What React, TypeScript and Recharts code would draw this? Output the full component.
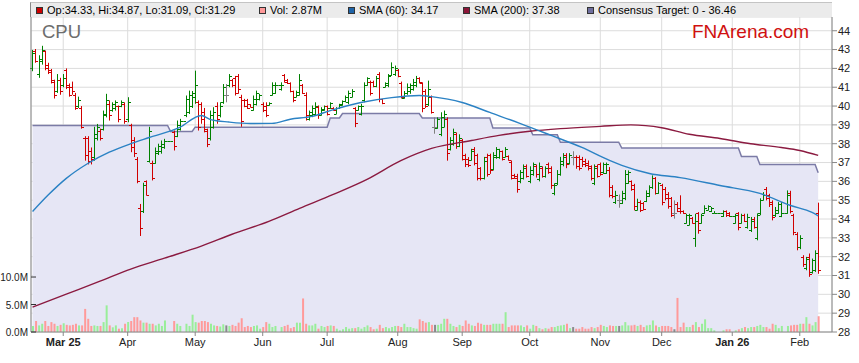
import { Area, Bar, CartesianGrid, Cell, ComposedChart, Line, XAxis, YAxis } from 'recharts'

// Daily slots are weekdays starting Mon 17 Feb 2025; exchange holidays are
// flat bars at the previous close with zero volume.
const FIRST_DAY = Date.UTC(2025, 1, 17)
const PAD_SLOTS = 4

const opens = [
  42.0, 42.9, 41.7, 42.4, 42.9, 42.2, 41.9, 41.3, 40.8, 41.4,
  41.1, 41.9, 41.1, 41.0, 40.6, 40.0, 39.9, 38.3, 38.3, 37.6,
  37.3, 38.3, 38.7, 38.8, 39.5, 40.1, 39.8, 39.9, 40.0, 40.0,
  40.1, 39.3, 39.0, 38.2, 37.2, 34.6, 34.4, 36.0, 37.1, 37.0,
  37.0, 37.5, 37.6, 37.8, 38.17, 38.17, 38.6, 38.4, 38.8, 39.2,
  39.5, 39.7, 40.0, 40.5, 40.2, 40.1, 39.7, 38.7, 38.3, 38.9,
  40.0, 39.5, 40.2, 40.6, 41.1, 41.4, 41.5, 41.6, 40.5, 40.3,
  40.3, 40.1, 39.8, 40.1, 40.35, 40.1, 40.0, 40.05, 40.6, 40.7,
  41.1, 40.9, 41.65, 41.4, 41.2, 40.8, 40.5, 40.6, 41.1, 40.6,
  39.3, 39.5, 39.6, 39.95, 39.55, 39.8, 40.0, 39.9, 39.92, 39.6,
  39.9, 40.05, 40.25, 40.2, 40.5, 39.9, 39.8, 39.6, 40.3, 41.1,
  41.3, 41.3, 41.05, 41.7, 40.35, 41.0, 41.1, 41.65, 41.7, 41.9,
  41.2, 40.45, 40.7, 40.8, 40.9, 41.1, 41.5, 41.2, 40.8, 40.1,
  40.5, 38.9, 38.85, 38.5, 38.9, 39.3, 37.7, 38.0, 38.5, 37.9,
  38.2, 37.4, 37.2, 37.15, 37.7, 37.4, 36.7, 36.2, 37.3, 37.4,
  36.65, 37.3, 37.3, 37.6, 37.3, 37.35, 37.05, 36.35, 36.3, 36.0,
  36.2, 36.8, 36.0, 36.4, 36.8, 36.1, 36.7, 36.3, 36.9, 36.7,
  35.4, 35.9, 36.4, 36.9, 37.4, 37.0, 37.3, 37.3, 37.3, 37.2,
  37.1, 37.0, 36.8, 35.9, 36.8, 36.9, 36.5, 36.45, 36.6, 35.7,
  34.9, 35.0, 34.85, 35.1, 35.9, 36.0, 35.8, 34.5, 34.9, 34.85,
  34.95, 35.2, 35.7, 36.2, 35.4, 35.8, 35.6, 35.35, 35.1, 34.3,
  34.8, 34.6, 34.44, 33.8, 33.7, 34.05, 33.0, 34.3, 33.8, 34.3,
  34.5, 34.4, 34.32, 34.34, 34.34, 34.15, 34.4, 34.3, 34.15, 33.8,
  34.3, 33.8, 34.2, 33.6, 33.4, 34.0, 33.0, 34.3, 35.0, 35.6,
  35.3, 34.9, 34.2, 34.3, 34.15, 34.32, 34.3, 35.4, 34.2, 33.2,
  32.5, 32.0, 31.4, 32.0, 31.2, 31.3, 34.33,
]

const highs = [
  42.98, 43.03, 42.7, 43.2, 42.95, 42.3, 41.97, 41.4, 41.7, 41.5,
  41.7, 42.0, 41.2, 41.3, 40.7, 40.5, 40.0, 38.4, 38.4, 37.8,
  38.9, 39.05, 38.8, 39.76, 40.65, 40.3, 40.2, 40.3, 40.03, 40.3,
  40.2, 40.47, 39.06, 38.35, 37.29, 34.8, 35.93, 36.05, 38.9, 37.1,
  37.8, 38.0, 38.17, 38.26, 38.17, 38.17, 38.7, 39.23, 39.32, 39.2,
  40.56, 40.82, 40.8, 41.88, 40.3, 40.2, 39.9, 38.8, 39.76, 39.94,
  40.2, 40.2, 41.17, 41.17, 41.7, 41.44, 41.6, 41.7, 40.6, 40.38,
  40.38, 40.1, 40.56, 40.82, 40.65, 40.2, 40.2, 40.2, 41.26, 41.26,
  41.1, 41.26, 41.7, 41.44, 41.26, 40.82, 40.82, 41.7, 41.17, 40.73,
  39.76, 40.03, 40.2, 40.03, 39.94, 40.03, 40.03, 40.2, 39.94, 39.94,
  40.12, 40.3, 40.56, 40.82, 40.9, 39.94, 40.03, 40.12, 41.26, 41.53,
  41.35, 41.35, 41.6, 41.8, 40.38, 41.26, 41.7, 42.32, 42.15, 41.97,
  41.3, 40.8, 41.2, 41.2, 41.44, 41.6, 41.53, 41.26, 40.9, 41.35,
  40.56, 39.4, 39.4, 39.67, 39.76, 39.4, 38.35, 38.8, 38.6, 38.5,
  38.26, 37.47, 37.29, 37.73, 37.82, 37.47, 36.76, 37.3, 37.47, 37.47,
  37.55, 37.82, 37.73, 37.64, 37.82, 37.38, 37.11, 36.4, 36.4, 36.6,
  36.9, 36.9, 36.8, 37.0, 36.9, 37.0, 36.8, 36.8, 37.0, 36.8,
  35.9, 36.6, 37.3, 37.5, 37.5, 37.5, 37.6, 37.38, 37.38, 37.3,
  37.2, 37.11, 36.85, 36.9, 36.9, 37.0, 37.0, 37.0, 36.76, 35.8,
  35.5, 35.3, 35.5, 36.6, 36.58, 36.05, 35.87, 35.08, 34.99, 34.9,
  35.52, 35.79, 36.32, 36.23, 35.96, 35.87, 35.7, 35.43, 35.17, 34.99,
  34.9, 35.26, 34.46, 34.28, 34.28, 34.11, 34.28, 34.37, 34.28, 34.73,
  34.73, 34.64, 34.42, 34.34, 34.34, 34.46, 34.46, 34.37, 34.15, 34.28,
  34.37, 34.28, 34.28, 34.28, 34.11, 34.11, 34.3, 35.1, 35.43, 35.7,
  35.34, 34.99, 34.64, 34.9, 34.9, 34.32, 35.52, 35.5, 34.28, 33.3,
  33.14, 32.08, 31.99, 32.17, 31.9, 32.34, 34.87,
]

const lows = [
  41.85, 42.3, 41.5, 42.2, 41.9, 41.7, 41.2, 40.4, 40.7, 40.6,
  41.0, 40.9, 40.5, 40.6, 39.8, 39.9, 38.8, 37.1, 36.9, 36.9,
  37.1, 38.17, 38.17, 38.7, 39.4, 39.23, 39.7, 39.76, 39.14, 39.94,
  39.06, 39.14, 37.55, 37.29, 35.9, 33.1, 34.32, 35.26, 37.0, 36.05,
  36.94, 37.4, 37.47, 37.73, 38.17, 38.17, 37.64, 38.35, 38.7, 39.2,
  39.41, 39.58, 39.9, 40.12, 38.7, 39.06, 38.6, 37.82, 38.17, 38.8,
  39.06, 39.4, 40.12, 40.2, 41.0, 41.0, 40.56, 40.65, 38.9, 39.94,
  39.85, 39.94, 39.76, 40.03, 40.3, 39.68, 39.41, 40.03, 40.56, 40.65,
  41.1, 40.82, 41.26, 41.17, 40.73, 40.2, 40.47, 40.56, 40.65, 39.23,
  39.23, 39.41, 39.5, 39.32, 39.5, 39.76, 39.5, 39.85, 39.76, 39.58,
  39.85, 40.03, 40.2, 40.1, 40.47, 38.88, 39.76, 39.5, 40.2, 41.08,
  40.56, 41.0, 41.0, 40.2, 40.1, 41.0, 41.0, 41.6, 41.6, 41.53,
  40.4, 40.4, 40.6, 40.65, 40.82, 41.0, 41.2, 39.67, 39.9, 40.0,
  39.6, 38.53, 38.8, 38.4, 38.88, 37.1, 37.64, 37.9, 37.73, 37.82,
  37.11, 36.76, 36.76, 37.11, 36.85, 36.05, 36.05, 36.1, 36.25, 36.4,
  36.58, 37.2, 37.2, 37.11, 37.29, 37.11, 36.1, 36.14, 35.4, 35.9,
  36.1, 36.2, 35.9, 36.3, 36.2, 36.0, 36.2, 36.2, 36.4, 35.6,
  35.26, 35.8, 36.3, 36.8, 36.7, 36.9, 36.85, 36.67, 36.58, 36.76,
  36.76, 36.58, 36.05, 35.8, 36.2, 36.3, 36.4, 36.4, 35.15, 35.1,
  34.8, 34.6, 34.8, 35.0, 35.87, 35.5, 34.46, 34.46, 34.37, 34.46,
  34.9, 35.17, 35.6, 35.3, 35.34, 34.73, 34.99, 34.55, 34.11, 34.02,
  34.37, 34.28, 34.28, 33.76, 33.67, 33.76, 32.52, 33.22, 33.76, 34.28,
  34.46, 34.37, 34.3, 34.34, 34.34, 34.11, 34.11, 34.11, 34.15, 33.76,
  33.4, 33.76, 33.84, 33.49, 33.31, 33.49, 32.87, 34.2, 34.99, 34.99,
  34.64, 33.93, 34.11, 34.28, 34.1, 34.32, 34.28, 34.3, 33.14, 32.34,
  32.4, 31.46, 31.28, 30.93, 31.1, 31.19, 31.09,
]

const closes = [
  42.8, 42.4, 42.5, 43.0, 42.0, 41.8, 41.4, 40.6, 41.4, 40.8,
  41.5, 41.0, 40.6, 40.8, 39.9, 40.3, 38.9, 37.4, 37.1, 37.2,
  38.5, 38.9, 38.3, 39.6, 40.3, 39.5, 40.1, 40.2, 39.3, 40.2,
  39.2, 40.2, 37.8, 37.5, 36.0, 33.5, 35.8, 35.3, 38.7, 36.2,
  37.6, 37.9, 38.0, 38.17, 38.17, 38.17, 37.9, 39.0, 39.2, 39.2,
  40.4, 40.6, 40.7, 41.1, 38.9, 39.3, 38.8, 38.0, 39.5, 39.7,
  39.3, 40.0, 41.0, 40.6, 41.6, 41.1, 40.7, 40.9, 39.2, 40.0,
  39.9, 39.97, 40.4, 40.7, 40.6, 39.8, 39.5, 40.15, 41.1, 41.1,
  41.1, 41.1, 41.3, 41.2, 40.8, 40.3, 40.75, 41.4, 40.7, 39.5,
  39.7, 39.9, 40.0, 39.5, 39.85, 40.0, 39.6, 40.15, 39.8, 39.9,
  40.1, 40.25, 40.5, 40.7, 40.8, 39.1, 40.0, 40.0, 41.1, 41.5,
  40.7, 41.05, 41.5, 40.4, 40.15, 41.2, 41.6, 42.1, 42.0, 41.6,
  40.5, 40.7, 41.0, 41.1, 41.3, 41.5, 41.3, 39.9, 40.0, 40.9,
  39.7, 38.9, 39.3, 39.4, 39.6, 37.5, 38.2, 38.6, 37.9, 38.3,
  37.2, 36.9, 36.85, 37.6, 37.0, 36.2, 36.2, 37.1, 36.4, 36.6,
  37.4, 37.7, 37.6, 37.2, 37.7, 37.15, 36.2, 36.2, 35.6, 36.5,
  36.7, 36.3, 36.6, 36.9, 36.4, 36.8, 36.3, 36.7, 36.5, 35.8,
  35.8, 36.4, 37.1, 37.3, 36.9, 37.4, 37.3, 36.8, 36.7, 36.9,
  36.85, 36.7, 36.2, 36.7, 36.3, 36.4, 36.9, 36.9, 35.3, 35.2,
  35.3, 35.0, 35.4, 36.4, 36.5, 35.6, 34.7, 34.9, 34.5, 34.55,
  35.4, 35.7, 36.2, 35.4, 35.9, 34.9, 35.1, 34.7, 34.2, 34.3,
  34.45, 34.4, 34.3, 34.2, 34.2, 33.8, 33.9, 33.4, 34.2, 34.6,
  34.7, 34.6, 34.34, 34.34, 34.34, 34.4, 34.2, 34.15, 34.15, 34.2,
  33.6, 34.2, 33.9, 34.1, 33.9, 33.6, 34.2, 35.0, 35.3, 35.1,
  34.8, 34.1, 34.5, 34.8, 34.32, 34.32, 35.3, 34.4, 33.3, 32.5,
  33.0, 31.6, 31.9, 31.1, 31.8, 32.2, 31.29,
]

// volume in millions of shares
const volumes = [
  1.1, 2.0, 1.2, 1.5, 2.0, 1.1, 1.8, 1.5, 1.1, 1.3,
  1.6, 1.3, 1.2, 1.3, 1.5, 1.2, 1.2, 4.2, 2.4, 1.1,
  1.2, 1.1, 1.1, 1.8, 4.85, 1.2, 0.85, 1.2, 0.6, 0.7,
  1.5, 1.8, 2.0, 2.7, 2.7, 2.1, 1.7, 1.7, 1.5, 1.5,
  1.2, 1.5, 1.1, 2.1, 0, 0, 2.0, 1.5, 1.1, 0,
  1.5, 1.1, 3.15, 1.8, 1.7, 2.0, 2.0, 1.8, 1.5, 1.2,
  1.1, 1.0, 1.4, 1.2, 1.1, 1.3, 1.1, 1.7, 2.5, 0.9,
  1.1, 0.9, 1.1, 1.2, 0.6, 0.9, 1.8, 1.5, 0.9, 1.1,
  0, 0.9, 1.1, 1.3, 0.7, 0.9, 1.7, 1.7, 6.1, 1.5,
  1.2, 1.2, 1.5, 0.6, 1.1, 0.9, 1.1, 1.2, 1.1, 0.6,
  0.3, 0.5, 0.9, 0.6, 0.7, 0.7, 0.9, 0.6, 0.9, 1.2,
  0.9, 0.5, 0.6, 1.3, 0.7, 0.9, 0.7, 0.9, 1.1, 1.1,
  0.9, 1.5, 0.9, 0.9, 0.7, 0.6, 2.3, 2.0, 1.7, 1.8,
  1.3, 1.3, 1.3, 1.5, 2.4, 2.4, 1.5, 1.1, 0.9, 1.3,
  1.1, 2.1, 1.5, 1.2, 1.1, 1.7, 1.5, 1.3, 1.3, 1.3,
  1.5, 1.5, 1.5, 1.5, 3.6, 0.9, 1.2, 1.2, 1.2, 1.2,
  0.9, 1.2, 0.6, 1.3, 1.1, 0.7, 0.5, 0.7, 0.6, 0.9,
  0.9, 1.1, 1.2, 1.3, 1.5, 0.7, 0.9, 0.6, 0.6, 0.9,
  0.6, 0.6, 0.9, 0.7, 0.9, 1.3, 1.1, 0.9, 1.2, 1.1,
  1.1, 1.1, 1.2, 1.8, 1.2, 1.2, 1.3, 1.1, 1.3, 0.9,
  1.2, 1.3, 2.1, 1.2, 0.9, 1.1, 1.1, 1.1, 0.9, 0.5,
  6.2, 0.9, 1.7, 0.9, 0.9, 1.3, 1.8, 0.9, 1.5, 2.3,
  0.7, 0.7, 0.3, 0, 0, 0.3, 0.5, 0.5, 0, 0.3,
  0.5, 0.7, 0.9, 0.7, 0.9, 0.9, 1.1, 1.3, 0.9, 0.9,
  0.6, 1.5, 1.3, 0.7, 1.1, 0, 1.1, 1.2, 1.3, 1.3,
  1.5, 1.5, 2.7, 1.5, 1.2, 1.8, 2.87,
]

// [slot, value] readings along the moving averages
const sma60Points: Array<[number, number]> = [
  [0, 34.4], [5, 35.26], [11, 36.16], [18, 36.95], [25, 37.55], [32, 38.0],
  [38, 38.33], [48, 38.87], [55, 39.5], [58, 39.28], [64, 39.15], [71, 39.07],
  [78, 39.08], [84, 39.3], [91, 39.45], [97, 39.76], [107, 40.19], [117, 40.45],
  [126, 40.56], [130, 40.5], [140, 40.19], [149, 39.66], [159, 39.07], [169, 38.44],
  [179, 37.8], [188, 37.11], [192, 36.85], [201, 36.42], [211, 36.2], [224, 35.78],
  [237, 35.36], [247, 34.72], [254, 34.35], [256, 34.17],
]

const sma200Points: Array<[number, number]> = [
  [0, 29.32], [11, 30.01], [22, 30.7], [32, 31.34], [43, 31.92], [55, 32.56],
  [65, 33.19], [77, 33.88], [87, 34.57], [98, 35.31], [109, 36.11], [120, 37.1],
  [130, 37.75], [143, 38.17], [152, 38.44], [162, 38.66], [172, 38.8], [185, 38.92],
  [195, 39.0], [205, 38.85], [214, 38.5], [224, 38.28], [234, 38.0], [244, 37.8],
  [250, 37.64], [256, 37.38],
]

// consensus target: each change is a short ramp between two slots
const targetPoints: Array<[number, number]> = [
  [0, 38.97], [44, 38.97], [45, 38.65], [52, 38.65], [53, 38.88], [96, 38.88],
  [97, 39.37], [100, 39.37], [101, 39.6], [126, 39.6], [127, 39.37], [149, 39.37],
  [150, 38.84], [162, 38.84], [163, 38.47], [171, 38.47], [172, 38.08], [191, 38.08],
  [192, 37.77], [230, 37.77], [231, 37.32], [236, 37.32], [237, 36.9], [255, 36.9],
  [256, 36.46],
]

const priceTicks = [28, 29, 30, 31, 32, 33, 34, 35, 36, 37, 38, 39, 40, 41, 42, 43, 44]
const volumeTicks = [0, 5, 10]
const monthLabels = ['Mar 25', 'Apr', 'May', 'Jun', 'Jul', 'Aug', 'Sep', 'Oct', 'Nov', 'Dec', 'Jan 26', 'Feb']

const UP = '#008000'
const DOWN = '#d00000'
const FLAT = '#808080'
const VOL_UP = '#99ee99'
const VOL_DOWN = '#ff9a9a'
const VOL_FLAT = '#8a8a8a'

const slotDates: Array<Date> = []
for (let t = FIRST_DAY; slotDates.length < opens.length; t += 86400000) {
  const d = new Date(t)
  if (d.getUTCDay() !== 0 && d.getUTCDay() !== 6) slotDates.push(d)
}

// first weekday of each month gets a tick
const monthSlots: Array<number> = []
slotDates.forEach((d, i) => {
  if (i > 0 && d.getUTCMonth() !== slotDates[i - 1].getUTCMonth()) monthSlots.push(i)
})
const labelBySlot = new Map(monthSlots.map((s, i) => [s, monthLabels[i]]))

function direction(i: number) {
  if (volumes[i] === 0 || closes[i] > opens[i]) return 'up'
  if (closes[i] < opens[i]) return 'down'
  return 'flat'
}

const sma60 = new Map(sma60Points)
const sma200 = new Map(sma200Points)
const target = new Map(targetPoints)

const data = Array.from({ length: opens.length + PAD_SLOTS }, (_, i) =>
  i < opens.length
    ? {
        slot: i,
        range: [lows[i], highs[i]],
        open: opens[i],
        high: highs[i],
        low: lows[i],
        close: closes[i],
        volume: volumes[i],
        sma60: sma60.get(i) ?? null,
        sma200: sma200.get(i) ?? null,
        target: target.get(i) ?? null,
      }
    : { slot: i },
)

const last = opens.length - 1

function OhlcBar(props: any) {
  const { x, y, width, height, payload } = props
  if (!payload || payload.open == null) return null
  const dir = direction(payload.slot)
  const color = dir === 'up' ? UP : dir === 'down' ? DOWN : FLAT
  const cx = Math.round(x + width / 2) + 0.5
  const top = Math.min(y, y + height)
  const h = Math.abs(height)
  const span = payload.high - payload.low
  const at = (v: number) => (span > 0 ? top + ((payload.high - v) / span) * h : top)
  const yo = Math.round(at(payload.open)) + 0.5
  const yc = Math.round(at(payload.close)) + 0.5
  return (
    <g stroke={color} strokeWidth={1}>
      {h > 0 && <line x1={cx} x2={cx} y1={top} y2={top + h} />}
      <line x1={cx - 2.5} x2={cx} y1={yo} y2={yo} />
      <line x1={cx} x2={cx + 2.5} y1={yc} y2={yc} />
    </g>
  )
}

function MonthTick({ x, y, payload }: any) {
  const label = labelBySlot.get(payload.value) ?? ''
  return (
    <text
      x={x}
      y={y}
      dy={8}
      textAnchor="middle"
      fontSize={11}
      fontWeight={/\d/.test(label) ? 'bold' : 'normal'}
      fill="#222"
    >
      {label}
    </text>
  )
}

function VolumeTick({ x, y, payload }: any) {
  return (
    <g>
      <line x1={x + 4} x2={x + 9} y1={y} y2={y} stroke="#333" />
      <text x={x + 1} y={y} dy={4} textAnchor="end" fontSize={10} fill="#222">
        {`${payload.value.toFixed(1)}M`}
      </text>
    </g>
  )
}

const legendItems = [
  {
    left: 5,
    color: '#cc0000',
    text: `Op:${opens[last].toFixed(2)}, Hi:${highs[last].toFixed(2)}, Lo:${lows[last].toFixed(2)}, Cl:${closes[last].toFixed(2)}`,
  },
  { left: 228, color: '#ff9999', text: `Vol: ${volumes[last].toFixed(2)}M` },
  { left: 317, color: '#1f64a8', text: `SMA (60): ${sma60Points[sma60Points.length - 1][1].toFixed(2)}` },
  { left: 432, color: '#8b1538', text: `SMA (200): ${sma200Points[sma200Points.length - 1][1].toFixed(2)}` },
  {
    left: 556,
    color: '#6f6f9f',
    text: `Consensus Target: 0 - ${targetPoints[targetPoints.length - 1][1].toFixed(2)}`,
  },
]

export default function App() {
  return (
    <div
      style={{
        position: 'absolute',
        left: 0,
        top: 0,
        width: 859,
        height: 363,
        background: '#fff',
        overflow: 'hidden',
        fontFamily: '"Liberation Sans", Arial, sans-serif',
      }}
    >
      <ComposedChart
        width={859}
        height={363}
        data={data}
        margin={{ top: 17, right: 0, bottom: 0, left: 0 }}
      >
        <CartesianGrid yAxisId="price" stroke="#dcdcdc" />
        <XAxis
          dataKey="slot"
          type="category"
          ticks={monthSlots}
          interval={0}
          height={31}
          tickSize={4}
          tickMargin={2}
          stroke="#888"
          tick={<MonthTick />}
        />
        <XAxis xAxisId="vol" dataKey="slot" type="category" hide />
        <YAxis
          yAxisId="price"
          orientation="right"
          domain={[28, 44.73]}
          ticks={priceTicks}
          interval={0}
          width={27}
          tickSize={5}
          tickMargin={1}
          stroke="#888"
          tick={{ fontSize: 11, fill: '#222', textAnchor: 'start' }}
          allowDataOverflow
        />
        <YAxis
          yAxisId="vol"
          orientation="left"
          domain={[0, 57.3]}
          ticks={volumeTicks}
          interval={0}
          width={31}
          tickSize={2}
          tickMargin={2}
          tickLine={false}
          stroke="#888"
          tick={<VolumeTick />}
          allowDataOverflow
        />
        <Area
          yAxisId="price"
          dataKey="target"
          type="linear"
          connectNulls
          stroke="#7b7ba6"
          strokeWidth={1.5}
          fill="#e6e6f5"
          fillOpacity={1}
          isAnimationActive={false}
        />
        <Bar
          xAxisId="vol"
          yAxisId="vol"
          dataKey="volume"
          barSize={2}
          isAnimationActive={false}
        >
          {data.map((row, i) => {
            const dir = i < opens.length ? direction(i) : 'up'
            return (
              <Cell key={row.slot} fill={dir === 'up' ? VOL_UP : dir === 'down' ? VOL_DOWN : VOL_FLAT} />
            )
          })}
        </Bar>
        <Line
          yAxisId="price"
          dataKey="sma200"
          type="monotone"
          connectNulls
          dot={false}
          stroke="#8b1a40"
          strokeWidth={1.4}
          isAnimationActive={false}
        />
        <Line
          yAxisId="price"
          dataKey="sma60"
          type="monotone"
          connectNulls
          dot={false}
          stroke="#2b82c4"
          strokeWidth={1.4}
          isAnimationActive={false}
        />
        <Bar
          yAxisId="price"
          dataKey="range"
          barSize={4}
          shape={OhlcBar}
          isAnimationActive={false}
        />
      </ComposedChart>

      <div
        style={{
          position: 'absolute',
          left: 30,
          top: 2,
          width: 802,
          height: 15,
          boxSizing: 'border-box',
          background: '#ebebeb',
          borderTop: '1px solid #c4c4c4',
          borderLeft: '1px solid #888',
          fontSize: 11,
          color: '#000',
        }}
      >
        {legendItems.map((item) => (
          <div
            key={item.left}
            style={{
              position: 'absolute',
              left: item.left,
              top: 0,
              height: 14,
              display: 'flex',
              alignItems: 'center',
              whiteSpace: 'nowrap',
            }}
          >
            <span
              style={{
                display: 'inline-block',
                width: 7,
                height: 7,
                boxSizing: 'border-box',
                background: item.color,
                border: '1px solid #333',
                marginRight: 4,
              }}
            />
            <span style={{ lineHeight: '14px' }}>{item.text}</span>
          </div>
        ))}
      </div>

      <div
        style={{
          position: 'absolute',
          left: 42,
          top: 22.6,
          fontSize: 18.5,
          lineHeight: 1,
          color: '#6d6d6d',
        }}
      >
        CPU
      </div>
      <div
        style={{
          position: 'absolute',
          left: 692,
          top: 22.2,
          fontSize: 19,
          lineHeight: 1,
          color: '#d01010',
        }}
      >
        FNArena.com
      </div>
    </div>
  )
}
